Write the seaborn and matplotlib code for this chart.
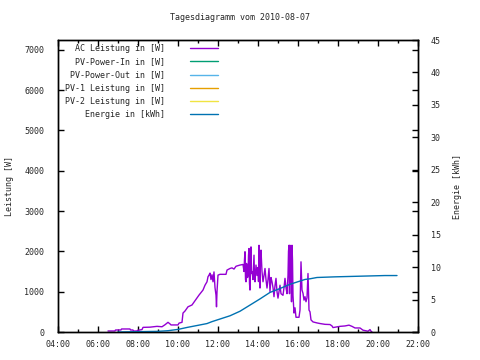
import matplotlib
matplotlib.use("Agg")
import matplotlib.pyplot as plt
from matplotlib.lines import Line2D
from matplotlib.ticker import MultipleLocator, FuncFormatter
import seaborn as sns
import pandas as pd

# ---- data ----
title = "Tagesdiagramm vom 2010-08-07"
legend_labels = ["AC Leistung in [W]", "PV-Power-In in [W]", "PV-Power-Out in [W]",
                 "PV-1 Leistung in [W]", "PV-2 Leistung in [W]", "Energie in [kWh]"]
series_colors = ["#9400D3", "#009E73", "#56B4E9", "#E69F00", "#F0E442", "#0072B2"]

ac_hours = [6.50, 6.85, 6.875, 7.15, 7.175, 7.60, 7.625, 7.75, 7.775, 7.95, 7.975, 8.20,
            8.25, 8.60, 8.95, 9.20, 9.35, 9.50, 9.60, 9.65, 10.0, 10.05, 10.2, 10.25,
            10.35, 10.5, 10.7, 10.85, 11.05, 11.25, 11.35, 11.45, 11.5, 11.55, 11.6,
            11.65, 11.7, 11.75, 11.8, 11.85, 11.9, 11.925, 11.95, 12.0, 12.1, 12.4,
            12.45, 12.6, 12.7, 12.8, 12.9, 13.1, 13.25, 13.3, 13.325, 13.35, 13.375,
            13.4, 13.425, 13.45, 13.475, 13.5, 13.525, 13.55, 13.575, 13.6, 13.625,
            13.65, 13.675, 13.7, 13.75, 13.8, 13.825, 13.85, 13.9, 13.95, 14.0, 14.025,
            14.05, 14.075, 14.1, 14.125, 14.15, 14.2, 14.25, 14.3, 14.35, 14.4, 14.45,
            14.5, 14.55, 14.6, 14.65, 14.7, 14.75, 14.8, 14.85, 14.9, 14.95, 15.0,
            15.05, 15.1, 15.15, 15.25, 15.3, 15.35, 15.4, 15.45, 15.5, 15.525, 15.55,
            15.575, 15.6, 15.625, 15.65, 15.675, 15.7, 15.725, 15.75, 15.8, 15.85,
            15.9, 16.05, 16.1, 16.15, 16.2, 16.25, 16.3, 16.35, 16.4, 16.45, 16.5,
            16.55, 16.6, 16.65, 16.75, 16.95, 17.1, 17.35, 17.6, 17.7, 17.75, 18.1,
            18.35, 18.55, 18.7, 18.85, 19.1, 19.25, 19.5, 19.6, 19.65, 19.7]
ac_watts = [25, 25, 50, 50, 75, 75, 50, 50, 25, 25, 40, 60,
            115, 120, 140, 130, 180, 240, 200, 175, 175, 220, 240, 470,
            520, 625, 670, 775, 915, 1040, 1160, 1245, 1370, 1410, 1460,
            1300, 1420, 1245, 1490, 1100, 915, 625, 1000, 1410, 1430, 1430,
            1535, 1575, 1590, 1560, 1630, 1660, 1675, 1500, 1800, 1990, 1300,
            1245, 1700, 1630, 1350, 1400, 1900, 2070, 1200, 1040, 1800,
            2110, 1450, 1500, 1300, 1905, 1350, 1245, 1660, 1400, 1600, 1250,
            2150, 1500, 1090, 1900, 2030, 1500, 1245, 1400, 1575, 1300, 1090,
            1300, 1575, 1000, 1350, 1245, 1100, 875, 1150, 1330, 1000, 840,
            1000, 1160, 950, 910, 1100, 1330, 1100, 950, 1400, 2000, 2150,
            950, 2150, 1200, 2100, 750, 2150, 1780, 900, 470, 600,
            365, 365, 545, 1740, 1040, 960, 790, 875, 750, 850, 1450,
            545, 500, 300, 250, 225, 210, 190, 185, 150, 110, 140,
            150, 170, 140, 100, 100, 45, 20, 60, 20, 0]

energy_hours = [7.0, 9.0, 9.5, 10.0, 10.45, 10.95, 11.45, 11.7, 12.1, 12.6, 13.1, 13.6,
                14.1, 14.6, 15.1, 15.6, 15.85, 16.1, 16.35, 16.6, 16.95, 17.85, 20.35, 20.95]
energy_kwh = [0.0, 0.1, 0.2, 0.4, 0.7, 1.0, 1.3, 1.6, 2.0, 2.5, 3.2, 4.15,
              5.1, 6.1, 6.7, 7.35, 7.6, 7.85, 8.1, 8.2, 8.4, 8.5, 8.7, 8.7]

x_range = (4, 22)
y_range = (0, 7240)
y2_range = (0, 45)

# ---- style ----
sns.set_theme(style="white")
plt.rcParams["font.family"] = ["DejaVu Sans Mono"]
plt.rcParams["font.size"] = 6

fig = plt.figure(figsize=(4.8, 3.6), dpi=100)
ax = fig.add_axes([58 / 480, 1 - 332 / 360, 360 / 480, 292 / 360])
ax2 = ax.twinx()

ac_df = pd.DataFrame({"h": ac_hours, "w": ac_watts})
en_df = pd.DataFrame({"h": energy_hours, "e": energy_kwh})

sns.lineplot(data=ac_df, x="h", y="w", ax=ax, color=series_colors[0], lw=1.0,
             sort=False, estimator=None, legend=False)
sns.lineplot(data=en_df, x="h", y="e", ax=ax2, color=series_colors[5], lw=1.0,
             sort=False, estimator=None, legend=False)

ax.set_xlim(*x_range)
ax.set_ylim(*y_range)
ax2.set_ylim(*y2_range)

for a in (ax, ax2):
    for s in a.spines.values():
        s.set_color("black")
        s.set_linewidth(1.0)

ax.xaxis.set_major_locator(MultipleLocator(2))
ax.xaxis.set_minor_locator(MultipleLocator(1))
ax.xaxis.set_major_formatter(FuncFormatter(lambda v, p: f"{int(v):02d}:00"))
ax.yaxis.set_major_locator(MultipleLocator(1000))
ax2.yaxis.set_major_locator(MultipleLocator(5))

ax.tick_params(axis="x", which="major", direction="in", length=4, width=1,
               top=True, bottom=True, pad=6, labelsize=6, color="black")
ax.tick_params(axis="x", which="minor", direction="in", length=2, width=1,
               top=True, bottom=True, color="black")
ax.tick_params(axis="y", which="major", direction="in", length=4, width=1,
               left=True, right=True, pad=10, labelsize=6, color="black")
ax2.tick_params(axis="y", which="major", direction="in", length=4, width=1,
                right=True, left=False, pad=9, labelsize=6, color="black")

ax.set_xlabel("")
ax.set_ylabel("Leistung [W]", fontsize=6, labelpad=7)
ax2.set_ylabel("Energie [kWh]", fontsize=6, labelpad=9)
ax2.yaxis.set_label_position("right")

fig.text(0.5, 1 - 17 / 360, title, ha="center", va="center", fontsize=6)

# legend (labels right-justified in monospace)
width = max(len(l) for l in legend_labels)
handles = [Line2D([], [], color=c, lw=1.0) for c in series_colors]
labels = [l.rjust(width) for l in legend_labels]
leg = ax2.legend(handles, labels, loc="upper left", bbox_to_anchor=(0.007, 1.0),
                 frameon=False, markerfirst=False, handlelength=3.4,
                 handletextpad=3.0, labelspacing=0.5, borderaxespad=0.1,
                 fontsize=6)

fig.savefig("out.png", dpi=100, facecolor="white")
